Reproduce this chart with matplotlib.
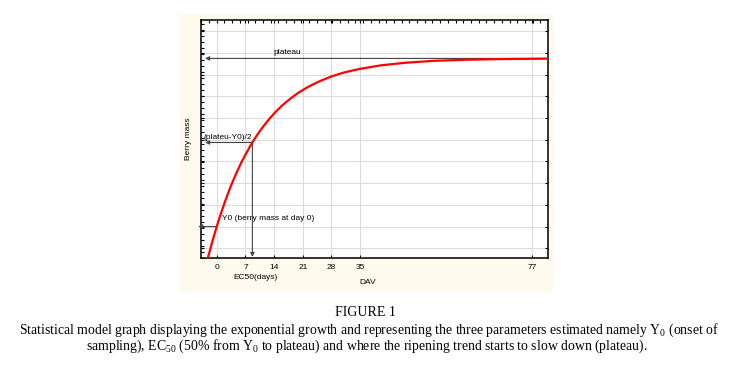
import matplotlib
matplotlib.use('Agg')
import matplotlib.pyplot as plt
from matplotlib.patches import Rectangle
from matplotlib.ticker import MultipleLocator

# valeurs
days = [-2.2, -1, 0, 1, 2, 3, 4, 5, 6, 7, 8, 9, 10, 11.5, 13, 14.5, 16, 18, 20,
        22.5, 25, 28, 31, 35, 40, 46, 53, 61, 70, 81]
mass = [0.52, 1.36, 2.00, 2.59, 3.14, 3.65, 4.12, 4.55, 4.95, 5.31, 5.65, 5.97,
        6.26, 6.65, 7.00, 7.31, 7.59, 7.90, 8.18, 8.46, 8.69, 8.92, 9.10, 9.27,
        9.43, 9.55, 9.64, 9.69, 9.72, 9.74]
xticks = [0, 7, 14, 21, 28, 35, 77]
y0 = 2.0
plateau = 9.75
half = 5.875
ec50 = 8.7

plt.rcParams['font.family'] = 'Liberation Sans'
plt.rcParams['mathtext.fontset'] = 'custom'
plt.rcParams['mathtext.default'] = 'regular'

fig = plt.figure(figsize=(7.3, 3.66), dpi=100)
fig.patch.set_facecolor('white')

# fond crème autour du graphique
fig.patches.append(Rectangle((0.2466, 0.2022), 0.511, 0.7596, transform=fig.transFigure,
                             facecolor='#fffaee', edgecolor='none', zorder=-5))

ax = fig.add_axes([0.2747, 0.2951, 0.4756, 0.649])
ax.set_facecolor('white')
ax.set_xlim(-3.95, 80.75)
ax.set_ylim(0.55, 11.5)
ax.set_xticks(xticks)
ax.set_yticks(range(1, 12))
ax.set_yticklabels([])
ax.yaxis.set_minor_locator(MultipleLocator(0.2765))
ax.xaxis.set_minor_locator(MultipleLocator(1.88))
ax.grid(True, which='major', color='#dcdcdc', lw=0.8)
ax.set_axisbelow(True)
ax.tick_params(which='both', direction='in', top=True, right=True,
               labelsize=6, length=2.5, width=0.8, pad=4)
ax.tick_params(which='minor', bottom=False, right=False, length=1.8)
for s in ax.spines.values():
    s.set_linewidth(1.2)
    s.set_color('#111111')

ax.plot(days, mass, color='red', lw=1.6, zorder=5, clip_on=True)

arr = dict(arrowstyle='-|>', color='#444444', lw=0.8, mutation_scale=6,
           shrinkA=0, shrinkB=0)
ax.annotate('', xy=(-2.85, plateau), xytext=(80.75, plateau), arrowprops=arr,
            annotation_clip=False, zorder=4)
ax.text(13.8, plateau + 0.1, 'plateau', fontsize=6, va='bottom', ha='left')

ax.annotate('', xy=(-2.85, half), xytext=(ec50, half), arrowprops=arr,
            annotation_clip=False, zorder=4)
ax.text(-3.2, half + 0.08, '(plateu-Y0)/2', fontsize=6, va='bottom', ha='left')

ax.annotate('', xy=(ec50, 0.6), xytext=(ec50, half), arrowprops=arr,
            annotation_clip=False, zorder=4)

ax.annotate('', xy=(-4.5, y0), xytext=(0, y0), arrowprops=arr,
            annotation_clip=False, zorder=4)
ax.text(1.2, y0 + 0.35, 'Y0 (berry mass at day 0)', fontsize=6, va='center', ha='left')

ax.text(-0.036, 0.5, 'Berry mass', transform=ax.transAxes, rotation=90,
        fontsize=6, ha='center', va='center')
ax.text(0.157, -0.084, 'EC50(days)', transform=ax.transAxes, fontsize=6,
        ha='center', va='center')
ax.text(0.481, -0.105, 'DAV', transform=ax.transAxes, fontsize=6,
        ha='center', va='center')

serif = 'Liberation Serif'
fig.text(0.5, 1 - 313 / 366, 'FIGURE 1', family=serif, fontsize=10,
         ha='center', va='center')
fig.text(0.505, 1 - 330 / 366,
         'Statistical model graph displaying the exponential growth and representing '
         'the three parameters estimated namely Y$_{0}$ (onset of',
         family=serif, fontsize=9.9, ha='center', va='center')
fig.text(0.502, 1 - 346.5 / 366,
         'sampling), EC$_{50}$ (50% from Y$_{0}$ to plateau) and where the ripening '
         'trend starts to slow down (plateau).',
         family=serif, fontsize=9.9, ha='center', va='center')

fig.savefig('out.png', dpi=100)
